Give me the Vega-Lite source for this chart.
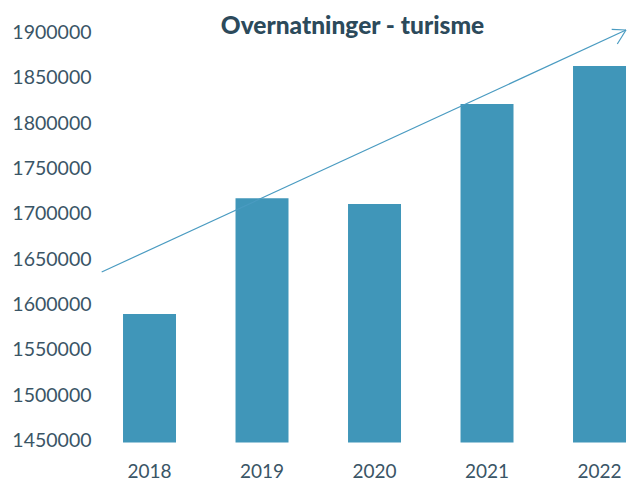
{
  "$schema": "https://vega.github.io/schema/vega-lite/v6.json",
  "width": 529,
  "height": 410,
  "autosize": "none",
  "padding": {"left": 100, "top": 32.5, "right": 0, "bottom": 39.5},
  "background": "white",
  "title": {
    "text": "Overnatninger - turisme",
    "font": "Lato",
    "fontSize": 24.5,
    "fontWeight": 900,
    "color": "#2c4a5b",
    "anchor": "middle",
    "frame": "group",
    "dx": -12,
    "dy": 17,
    "offset": 0
  },
  "config": {
    "view": {"stroke": null},
    "axis": {"labelFont": "Lato", "labelColor": "#3a5566", "grid": false, "domain": false, "ticks": false}
  },
  "datasets": {
    "bars": [
      {"year": "2018", "value": 1589500},
      {"year": "2019", "value": 1717100},
      {"year": "2020", "value": 1710800},
      {"year": "2021", "value": 1821100},
      {"year": "2022", "value": 1863000}
    ],
    "arrow": [
      {"seg": "shaft", "t": 0.0032, "v": 1635840},
      {"seg": "shaft", "t": 0.9943, "v": 1902740},
      {"seg": "arm1", "t": 0.9673, "v": 1903500},
      {"seg": "arm1", "t": 0.9943, "v": 1902740},
      {"seg": "arm2", "t": 0.9779, "v": 1887300},
      {"seg": "arm2", "t": 0.9943, "v": 1902740}
    ]
  },
  "layer": [
    {
      "data": {"name": "bars"},
      "mark": {"type": "bar", "color": "#4096b9"},
      "encoding": {
        "x": {
          "field": "year",
          "type": "nominal",
          "scale": {"paddingInner": 0.529, "paddingOuter": 0.1156, "align": 0.885, "round": false},
          "axis": {"title": null, "labelAngle": 0, "labelFontSize": 19, "labelPadding": 20}
        },
        "y": {
          "field": "value",
          "type": "quantitative",
          "scale": {"domain": [1447800, 1900000], "nice": false, "zero": false},
          "axis": {
            "title": null,
            "values": [1450000, 1500000, 1550000, 1600000, 1650000, 1700000, 1750000, 1800000, 1850000, 1900000],
            "format": "d",
            "labelFontSize": 19.5,
            "labelPadding": 9
          }
        },
        "y2": {"datum": 1447800}
      }
    },
    {
      "data": {"name": "arrow"},
      "mark": {"type": "line", "color": "#4a9bc1", "strokeWidth": 1.2},
      "encoding": {
        "x": {"field": "t", "type": "quantitative", "scale": {"domain": [0, 1], "nice": false, "zero": false}, "axis": null},
        "y": {"field": "v", "type": "quantitative", "scale": {"domain": [1447800, 1900000], "nice": false, "zero": false}},
        "detail": {"field": "seg"}
      }
    }
  ],
  "resolve": {"scale": {"x": "independent"}, "axis": {"x": "independent"}}
}
